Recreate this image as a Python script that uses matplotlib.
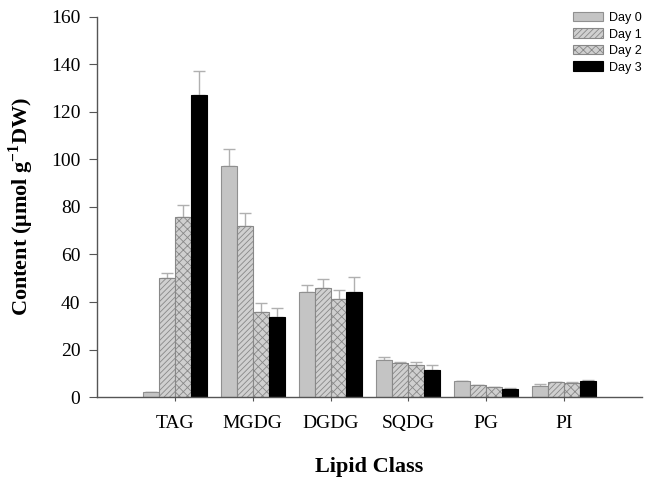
import numpy as np
import matplotlib.pyplot as plt

classes = ["TAG", "MGDG", "DGDG", "SQDG", "PG", "PI"]
days = ["Day 0", "Day 1", "Day 2", "Day 3"]

day0 = [2.0, 97.4, 44.3, 15.4, 6.6, 4.8]
day1 = [50.0, 72.1, 45.7, 14.5, 5.0, 6.2]
day2 = [75.9, 35.9, 41.3, 13.5, 4.2, 6.0]
day3 = [126.9, 33.8, 44.3, 11.5, 3.6, 6.6]

err0 = [0.3, 6.9, 2.9, 1.3, 0.3, 0.7]
err1 = [2.0, 5.5, 4.0, 0.4, 0.2, 0.3]
err2 = [4.9, 3.5, 3.8, 1.2, 0.2, 0.3]
err3 = [10.4, 3.8, 6.1, 2.1, 0.3, 0.8]

values = [day0, day1, day2, day3]
errors = [err0, err1, err2, err3]

plt.rcParams["hatch.color"] = "#7a7a7a"
plt.rcParams["hatch.linewidth"] = 0.6
plt.rcParams["mathtext.fontset"] = "custom"
plt.rcParams["mathtext.rm"] = "Liberation Serif:bold"
plt.rcParams["mathtext.bf"] = "Liberation Serif:bold"

fig = plt.figure(figsize=(6.47, 4.79), dpi=100)
ax = fig.add_axes([0.150, 0.171, 0.842, 0.794])

x = np.arange(len(classes))
w = 0.205
faces = ["#c4c4c4", "#d0d0d0", "#cfcfcf", "black"]
hatches = [None, "//////", "xxxx", None]
edges = ["#909090", "#888888", "#888888", "black"]

for i in range(4):
    pos = x + (i - 1.5) * w
    ax.bar(pos, values[i], w, color=faces[i], edgecolor=edges[i],
           hatch=hatches[i], linewidth=0.8, label=days[i], zorder=2)
    ax.errorbar(pos, values[i], yerr=[np.zeros(len(classes)), errors[i]],
                fmt="none", ecolor="#b0b0b0", elinewidth=1.0, capsize=4,
                capthick=1.0, zorder=1)

ax.set_xlim(-1, 6)
ax.set_ylim(0, 160)
ax.set_yticks(np.arange(0, 161, 20))
ax.set_xticks(x)
ax.set_xticklabels(classes)

for s in ["top", "right"]:
    ax.spines[s].set_visible(False)
for s in ["left", "bottom"]:
    ax.spines[s].set_color("#555555")
    ax.spines[s].set_linewidth(1.0)

ax.tick_params(axis="y", direction="out", length=6, color="#555555",
               labelsize=14, pad=6)
ax.tick_params(axis="x", direction="inout", length=6, color="#555555",
               labelsize=14, pad=10)
for lab in ax.get_xticklabels() + ax.get_yticklabels():
    lab.set_family("Liberation Serif")

ax.set_ylabel("Content (μmol g$^{\\mathbf{-1}}$DW)", family="Liberation Serif",
              fontweight="bold", fontsize=16, labelpad=11)
ax.set_xlabel("Lipid Class", family="Liberation Serif",
              fontweight="bold", fontsize=16, labelpad=18)

leg = ax.legend(loc="upper right", bbox_to_anchor=(1.019, 1.039), frameon=False,
                prop={"family": "Liberation Sans", "size": 9},
                handlelength=2.4, handleheight=0.8, handletextpad=0.55,
                labelspacing=0.35, borderpad=0.3)

fig.savefig("out.png", dpi=100)
